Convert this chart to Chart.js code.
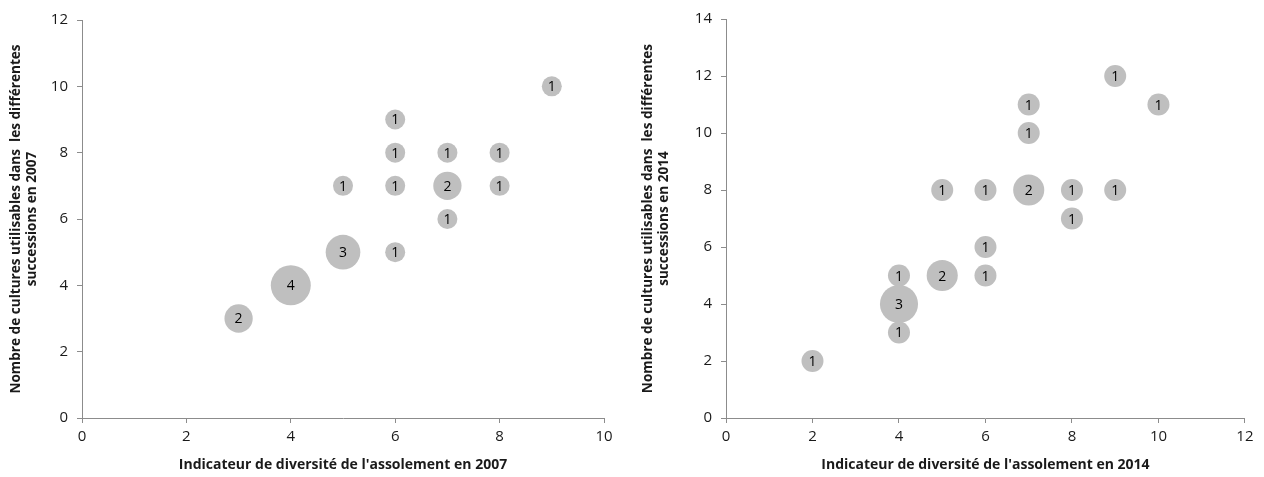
<!DOCTYPE html>
<html lang="fr">
<head>
<meta charset="utf-8">
<script src="https://cdn.jsdelivr.net/npm/chart.js@4.4.1/dist/chart.umd.min.js"></script>
<style>
  html, body { margin: 0; padding: 0; background: #fff; }
  .wrap { position: absolute; top: 0; width: 632px; height: 477px; }
  #w1 { left: 0; }
  #w2 { left: 632px; }
</style>
</head>
<body>
<div class="wrap" id="w1"><canvas id="chart2007"></canvas></div>
<div class="wrap" id="w2"><canvas id="chart2014"></canvas></div>
<script>
// 2007 : diversité (x), nombre de cultures (y), nombre d'exploitations (n)
const x2007 = [9, 6, 6, 7, 8, 5, 6, 7, 8, 7, 5, 6, 4, 3];
const y2007 = [10, 9, 8, 8, 8, 7, 7, 7, 7, 6, 5, 5, 4, 3];
const n2007 = [1, 1, 1, 1, 1, 1, 1, 2, 1, 1, 3, 1, 4, 2];

// 2014
const x2014 = [9, 7, 10, 7, 5, 6, 7, 8, 9, 8, 6, 4, 5, 6, 4, 4, 2];
const y2014 = [12, 11, 11, 10, 8, 8, 8, 8, 8, 7, 6, 5, 5, 5, 4, 3, 2];
const n2014 = [1, 1, 1, 1, 1, 1, 2, 1, 1, 1, 1, 1, 2, 1, 3, 1, 1];

const xTitles = [
  "Indicateur de diversité de l'assolement en 2007",
  "Indicateur de diversité de l'assolement en 2014",
];
const yTitles = [
  ["Nombre de cultures utilisables dans  les différentes", "successions en 2007"],
  ["Nombre de cultures utilisables dans  les différentes", "successions en 2014"],
];

const FONT = "'Open Sans', Lato, sans-serif";
const AXIS = "#8c8c8c";
const TEXT = "#1a1a1a";
const BUBBLE = "#bfbfbf";

/* ── labels inside bubbles ── */
const bubbleLabels = {
  id: "bubbleLabels",
  afterDatasetsDraw(chart) {
    const ctx = chart.ctx;
    const meta = chart.getDatasetMeta(0);
    const ds = chart.data.datasets[0];
    ctx.save();
    ctx.font = "14px " + FONT;
    ctx.fillStyle = "#000";
    ctx.textAlign = "center";
    ctx.textBaseline = "middle";
    meta.data.forEach((pt, i) => {
      ctx.fillText(String(ds.data[i].n), pt.x, pt.y + 1);
    });
    ctx.restore();
  },
};

function makeChart(id, xs, ys, ns, xMax, yMax, xTitle, yTitle, yWidth, padRight, base) {
  const data = xs.map((v, i) => ({ x: v, y: ys[i], n: ns[i] }));
  return new Chart(document.getElementById(id), {
    type: "bubble",
    data: {
      datasets: [
        {
          data: data,
          backgroundColor: BUBBLE,
          borderWidth: 0,
          radius: (c) => base * Math.sqrt(c.raw ? c.raw.n : 1),
        },
      ],
    },
    plugins: [bubbleLabels],
    options: {
      responsive: true,
      maintainAspectRatio: false,
      animation: false,
      events: [],
      layout: { padding: { top: 16, right: padRight, left: 0, bottom: 0 } },
      plugins: { legend: { display: false }, tooltip: { enabled: false } },
      scales: {
        x: {
          type: "linear",
          min: 0,
          max: xMax,
          afterFit: (s) => { s.height = 59; },
          border: { display: true, color: AXIS, width: 1 },
          grid: { drawOnChartArea: false, drawTicks: true, tickLength: 5, color: AXIS },
          ticks: { stepSize: 2, color: TEXT, padding: 5, maxRotation: 0, font: { family: FONT, size: 15, lineHeight: 1.2 } },
          title: {
            display: true,
            text: xTitle,
            color: TEXT,
            padding: { top: 0, bottom: 4 },
            font: { family: FONT, size: 14, weight: "bold", lineHeight: 1.2 },
          },
        },
        y: {
          type: "linear",
          min: 0,
          max: yMax,
          afterFit: (s) => { s.width = yWidth; },
          border: { display: true, color: AXIS, width: 1 },
          grid: { drawOnChartArea: false, drawTicks: true, tickLength: 5, color: AXIS },
          ticks: { stepSize: 2, color: TEXT, padding: 9, font: { family: FONT, size: 15 } },
          title: {
            display: true,
            text: yTitle,
            color: TEXT,
            padding: { top: 8, bottom: 0 },
            font: { family: FONT, size: 13.6, weight: "bold", lineHeight: 1.2 },
          },
        },
      },
    },
  });
}

makeChart("chart2007", x2007, y2007, n2007, 10, 12, xTitles[0], yTitles[0], 82, 28, 10);
makeChart("chart2014", x2014, y2014, n2014, 12, 14, xTitles[1], yTitles[1], 94, 16, 11);
</script>
</body>
</html>
